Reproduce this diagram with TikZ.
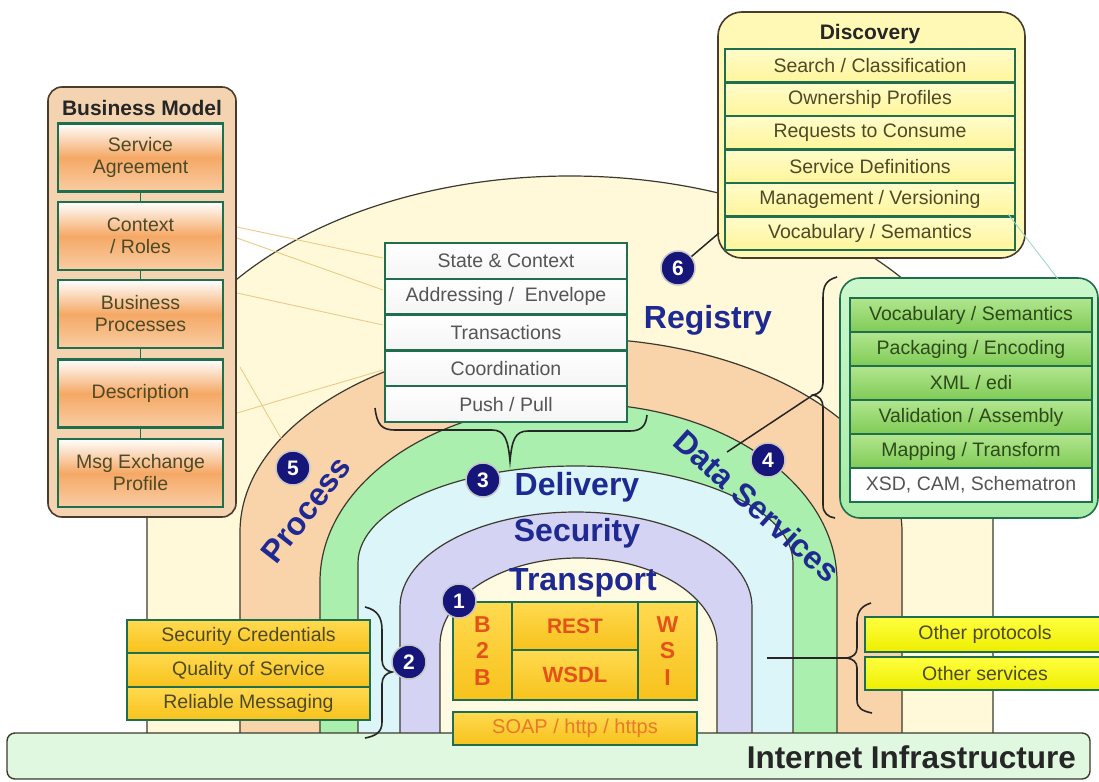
\documentclass[tikz,border=0pt]{standalone}
\usepackage{fontspec}
\setmainfont{Liberation Sans}
\definecolor{regfill}{HTML}{FFF9DA}
\definecolor{procfill}{HTML}{F9D3AA}
\definecolor{greenfill}{HTML}{AAEFAE}
\definecolor{delfill}{HTML}{DCF5F8}
\definecolor{secfill}{HTML}{D5D3F4}
\definecolor{trfill}{HTML}{FFFBE2}
\definecolor{archline}{HTML}{3C3A2E}
\definecolor{rowline}{HTML}{1F6E4E}
\definecolor{navy}{HTML}{15157A}
\definecolor{labelblue}{HTML}{1E2A92}
\definecolor{olive}{HTML}{4E4A26}
\definecolor{greentext}{HTML}{2E4A1A}
\definecolor{graytext}{HTML}{555555}
\definecolor{redtext}{HTML}{E4521B}
\definecolor{soaptext}{HTML}{E8782A}
\definecolor{tanline}{HTML}{EBCB85}
\definecolor{tealline}{HTML}{9FD8C8}
\definecolor{boxbrown}{HTML}{4A3C2C}
\definecolor{bmfill}{HTML}{F4D4B0}
\definecolor{discfill}{HTML}{FFF9B5}
\definecolor{discrowtop}{HTML}{FFFCCB}
\definecolor{discrowbot}{HTML}{FFF59A}
\definecolor{gbtop}{HTML}{CBF8CB}
\definecolor{gbbot}{HTML}{A6ECA6}
\definecolor{grrowtop}{HTML}{B2E690}
\definecolor{grrowbot}{HTML}{7FCB55}
\definecolor{bmorange}{HTML}{F5A865}
\definecolor{bmlight}{HTML}{F9CDA4}
\definecolor{goldtop}{HTML}{FFDA50}
\definecolor{goldbot}{HTML}{F7C21C}
\definecolor{yeltop}{HTML}{FFFF40}
\definecolor{yelbot}{HTML}{EEEE00}
\definecolor{barfill}{HTML}{E0F8E0}
\newcommand\rowfont{\fontsize{19.5}{22}\selectfont}
\begin{document}
\begin{tikzpicture}[x=1pt,y=-1pt,
  archstyle/.style={draw=archline, line width=1.2pt},
  rowbox/.style={draw=rowline, line width=2.4pt, inner sep=0pt, font=\rowfont},
  outerbox/.style={draw=boxbrown, line width=1.6pt, inner sep=0pt},
  boxtitle/.style={font=\fontsize{21}{21}\selectfont\bfseries, text=black!85},
  bracestyle/.style={draw=black!85, line width=1.6pt},
  conn/.style={draw=black!85, line width=1.5pt},
  faintline/.style={draw=tanline, line width=0.9pt},
  badge/.style={circle, fill=navy, draw=gray!45, line width=1.5pt, minimum size=34pt, inner sep=0pt, text=white, font=\fontsize{21}{21}\selectfont\bfseries},
  biglabel/.style={text=labelblue, font=\fontsize{32}{32}\selectfont\bfseries, inner sep=0pt},
  tbox/.style={draw=rowline, line width=2.6pt, top color=goldtop, bottom color=goldbot, inner sep=0pt},
  ybox/.style={rowbox, top color=goldtop, bottom color=goldbot, text=olive},
  bmrow/.style={rowbox, top color=white, bottom color=bmlight, middle color=bmorange, text=olive, align=center, minimum width=165pt, minimum height=68pt},
  discrow/.style={rowbox, top color=discrowtop, bottom color=discrowbot, text=olive, minimum width=290pt, minimum height=33.5pt},
  centerrow/.style={rowbox, top color=white, bottom color=gray!8, text=graytext, minimum width=242pt, minimum height=35.8pt},
  greenrow/.style={rowbox, top color=grrowtop, bottom color=grrowbot, text=greentext, minimum width=242pt, minimum height=34pt},
]
\useasboundingbox (0,0) rectangle (1099,781);
\fill[white] (0,0) rectangle (1099,781);

% arches
\path[archstyle, fill=regfill] (147,735) -- (147,445) arc[start angle=180, end angle=360, x radius=423, y radius=269] -- (993,735) -- cycle;
\path[archstyle, fill=procfill] (240,735) -- (240,532) arc[start angle=180, end angle=360, x radius=331, y radius=194] -- (902,735) -- cycle;
\path[archstyle, fill=greenfill] (320,735) -- (320,581.5) arc[start angle=180, end angle=360, x radius=258.5, y radius=178] -- (837,735) -- cycle;
\path[archstyle, fill=delfill] (358,735) -- (358,563) arc[start angle=180, end angle=360, x radius=217.5, y radius=97] -- (793,735) -- cycle;
\path[archstyle, fill=secfill] (400,735) -- (400,607) arc[start angle=180, end angle=360, x radius=176, y radius=95] -- (752,735) -- cycle;
\path[archstyle, fill=trfill] (440,735) -- (440,645) arc[start angle=180, end angle=360, x radius=138.5, y radius=87] -- (717,735) -- cycle;

% faint lines
\draw[faintline] (237,227) -- (383,258);
\draw[faintline] (237,238) -- (383,290);
\draw[faintline] (237,293) -- (383,325);
\draw[faintline] (240,367) -- (282,440);
\draw[faintline] (237,413) -- (383,370);

% internet bar
\node[draw=archline, line width=1.4pt, rounded corners=8pt, fill=barfill, minimum width=1083pt, minimum height=46pt, inner sep=0pt] (inet) at (548.5,756) {};
\node[anchor=east, font=\fontsize{31.5}{31.5}\selectfont\bfseries, text=black!85, inner sep=0pt] (inettext) at (1076,757) {Internet Infrastructure};

% transport boxes
\node[tbox, minimum width=244pt, minimum height=33pt, text=soaptext, font=\fontsize{20}{20}\selectfont] (soap) at (575,728.5) {SOAP / http / https};
\node[tbox, minimum width=59pt, minimum height=98pt, align=center, text=redtext, font=\fontsize{23}{26.5}\selectfont\bfseries] (b2b) at (482.5,651) {B\\2\\B};
\node[tbox, minimum width=126pt, minimum height=48pt, text=redtext, font=\fontsize{21}{21}\selectfont\bfseries] (rest) at (575,626) {REST};
\node[tbox, minimum width=126pt, minimum height=50pt, text=redtext, font=\fontsize{22}{22}\selectfont\bfseries] (wsdl) at (575,675) {WSDL};
\node[tbox, minimum width=59pt, minimum height=98pt, align=center, text=redtext, font=\fontsize{23}{26.5}\selectfont\bfseries] (wsi) at (667.5,651) {W\\S\\I};

% left yellow boxes
\node[ybox, minimum width=243pt, minimum height=33pt] (sc) at (248.5,636.5) {Security Credentials};
\node[ybox, minimum width=243pt, minimum height=34pt] (qs) at (248.5,670) {Quality of Service};
\node[ybox, minimum width=243pt, minimum height=33pt] (rm) at (248.5,703.5) {Reliable Messaging};

% right yellow boxes
\node[rowbox, top color=yeltop, bottom color=yelbot, minimum width=239pt, minimum height=35pt] (op) at (984.5,634.5) {};
\node[font=\rowfont, text=olive] (optext) at (985,634.5) {Other protocols};
\node[rowbox, top color=yeltop, bottom color=yelbot, minimum width=239pt, minimum height=33pt] (os) at (984.5,673.5) {};
\node[font=\rowfont, text=olive] (ostext) at (985,673.5) {Other services};

% business model
\node[outerbox, rounded corners=14pt, fill=bmfill, minimum width=188pt, minimum height=430pt] (bm) at (142,302) {};
\node[boxtitle] (bmt) at (142,108) {Business Model};
\node[bmrow] (bm1) at (140.5,157.5) {Service\\Agreement};
\node[bmrow] (bm2) at (140.5,236) {Context\\/ Roles};
\node[bmrow] (bm3) at (140.5,314) {Business\\Processes};
\node[bmrow] (bm4) at (140.5,393.5) {Description};
\node[bmrow] (bm5) at (140.5,473) {Msg Exchange\\Profile};
\draw[draw=rowline, line width=1pt] (bm1.south) -- (bm2.north);
\draw[draw=rowline, line width=1pt] (bm2.south) -- (bm3.north);
\draw[draw=rowline, line width=1pt] (bm3.south) -- (bm4.north);
\draw[draw=rowline, line width=1pt] (bm4.south) -- (bm5.north);

% discovery
\node[outerbox, rounded corners=24pt, fill=discfill, minimum width=307pt, minimum height=246pt] (disc) at (871.5,135) {};
\node[boxtitle] (disct) at (870,34) {Discovery};
\node[discrow] (d1) at (870,65.75) {Search / Classification};
\node[discrow] (d2) at (870,99.25) {Ownership Profiles};
\node[discrow] (d3) at (870,132.75) {Requests to Consume};
\node[discrow] (d4) at (870,166.25) {Service Definitions};
\node[discrow] (d5) at (870,199.75) {Management / Versioning};
\node[discrow] (d6) at (870,233.25) {Vocabulary / Semantics};

% center boxes
\node[centerrow] (c1) at (506,260.9) {State \& Context};
\node[centerrow] (c2) at (506,296.7) {Addressing /~ Envelope};
\node[centerrow] (c3) at (506,332.5) {Transactions};
\node[centerrow] (c4) at (506,368.3) {Coordination};
\node[centerrow] (c5) at (506,404.1) {Push / Pull};

% green box
\node[outerbox, draw=rowline, rounded corners=20pt, top color=gbtop, bottom color=gbbot, minimum width=258pt, minimum height=240pt] (gb) at (969,398) {};
\node[greenrow] (g1) at (971,315) {Vocabulary / Semantics};
\node[greenrow] (g2) at (971,349) {Packaging / Encoding};
\node[greenrow] (g3) at (971,383) {XML / edi};
\node[greenrow] (g4) at (971,417) {Validation / Assembly};
\node[greenrow] (g5) at (971,451) {Mapping / Transform};
\node[rowbox, fill=white, text=graytext, minimum width=242pt, minimum height=34pt] (g6) at (971,485) {XSD, CAM, Schematron};

% braces
\draw[bracestyle] (375,408) .. controls (377,425) and (382,430) .. (395,430) -- (492,430) .. controls (505,430) and (508,440) .. (510,461) .. controls (512,440) and (515,431) .. (528,431) -- (630,431) .. controls (642,431) and (646,425) .. (647,415);
\coordinate (br1) at (510,461);
\draw[bracestyle] (365,607) .. controls (378,610) and (382,618) .. (382,630) -- (382,660) .. controls (382,667) and (386,671) .. (392,672) .. controls (386,673) and (382,677) .. (382,684) -- (382,722) .. controls (382,732) and (376,736) .. (365,738);
\coordinate (br2) at (392,672);
\draw[bracestyle] (837,277) .. controls (826,280) and (823,286) .. (823,298) -- (823,383) .. controls (823,390) and (819,394) .. (813,395) .. controls (819,396) and (823,400) .. (823,407) -- (823,505) .. controls (823,513) and (828,517) .. (835,518);
\coordinate (br3) at (813,395);
\draw[bracestyle] (871,603) .. controls (861,606) and (857,612) .. (857,622) -- (857,648) .. controls (857,654) and (853,657) .. (847,658) .. controls (853,659) and (857,662) .. (857,668) -- (857,700) .. controls (857,708) and (862,711) .. (872,713);
\coordinate (br4) at (847,658);

% connectors
\coordinate (dsend) at (727,452);
\coordinate (trend) at (767,658);
\coordinate (discl) at (719,233);
\coordinate (tealA) at (1008,214);
\coordinate (tealB) at (1058,279);
\draw[conn] (br3) -- (dsend);
\draw[conn] (br4) -- (trend);
\draw[draw=tealline, line width=0.9pt] (tealA) -- (tealB);

% labels
\node[biglabel] (lreg) at (708,320) {Registry};
\node[biglabel] (ldel) at (577,487) {Delivery};
\node[biglabel] (lsec) at (577,533) {Security};
\node[biglabel] (ltr) at (583,583) {Transport};
\node[biglabel, rotate=52] (lproc) at (306,510) {Process};
\node[biglabel, rotate=-42] (ldata) at (757,506) {Data Services};

% badges
\coordinate (b6c) at (678,268);
\draw[conn] (b6c) -- (discl);
\node[badge] (b6) at (b6c) {6};
\node[badge] (b1) at (459,601) {1};
\node[badge] (b2) at (409,662) {2};
\node[badge] (b3) at (483,480) {3};
\node[badge] (b4) at (768,460) {4};
\node[badge] (b5) at (293,468) {5};
\end{tikzpicture}
\end{document}
